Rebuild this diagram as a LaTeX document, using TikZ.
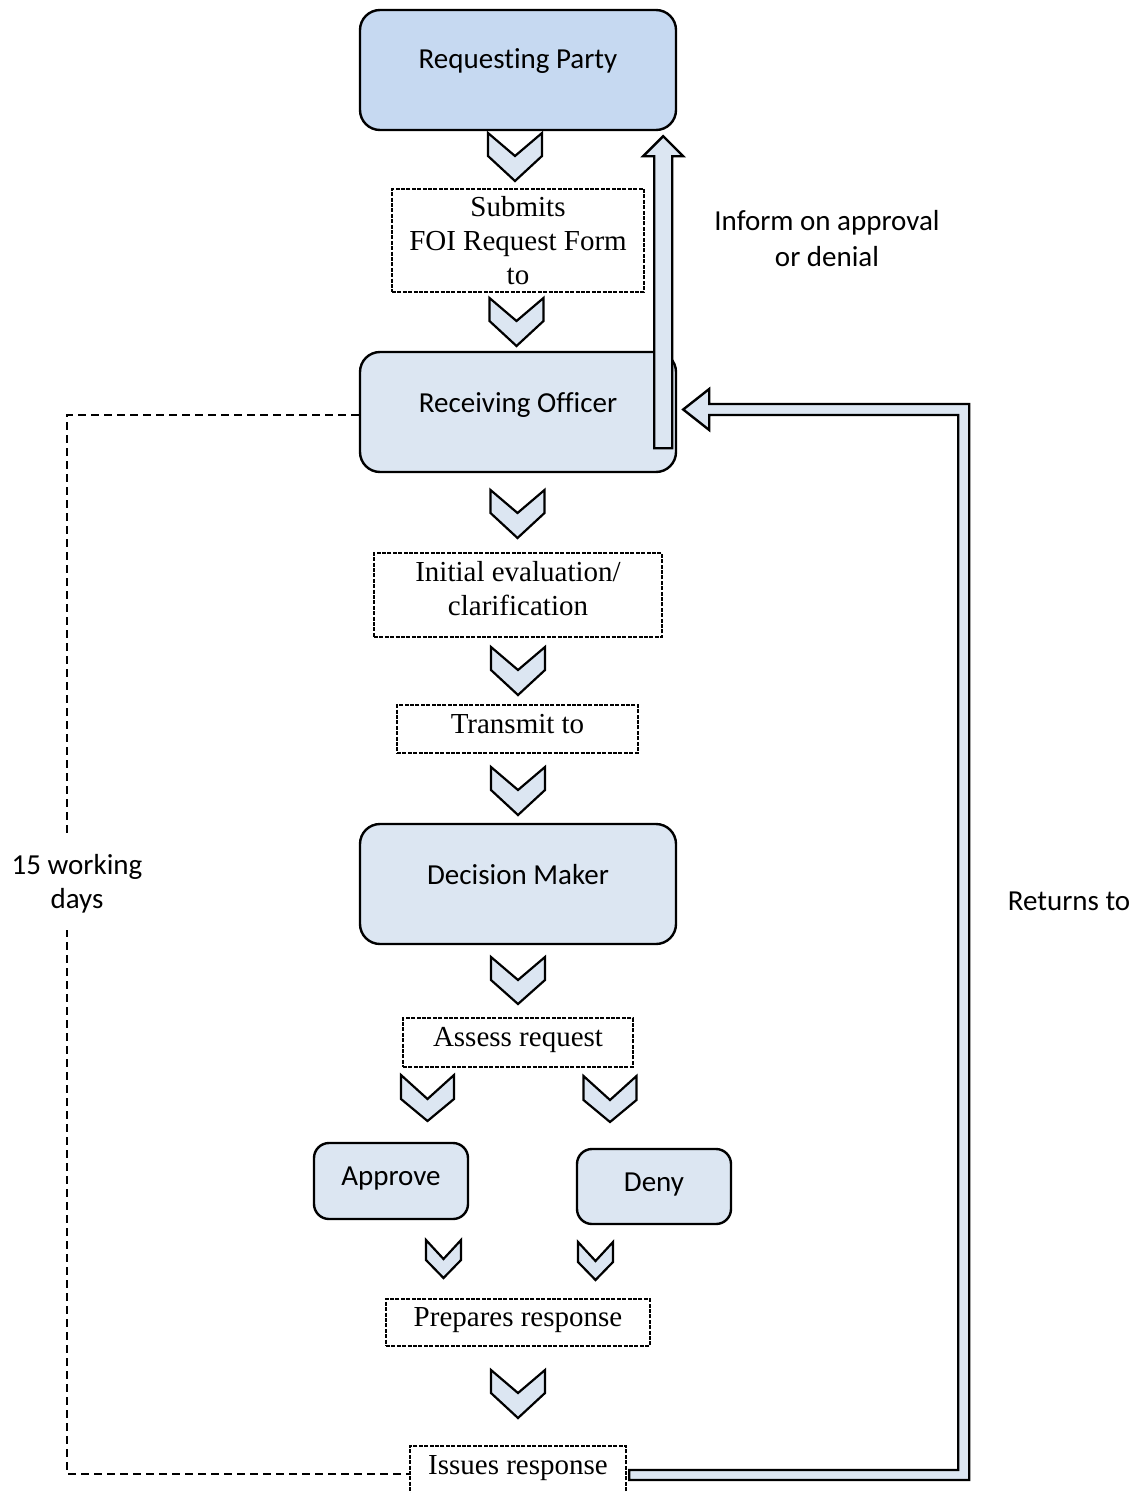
\documentclass[tikz,border=0pt]{standalone}
\usepackage{fontspec}
\setmainfont{Liberation Serif}
\newfontfamily\calibri[Ligatures=NoCommon]{Carlito}
\usetikzlibrary{calc}
\definecolor{darkfill}{HTML}{C6D9F1}
\definecolor{lightfill}{HTML}{DCE6F2}
\begin{document}
\begin{tikzpicture}[x=0.5pt,y=-0.5pt,
  rbox/.style={draw,line width=1.2pt,rounded corners=10pt,fill=lightfill,font=\calibri\fontsize{14.5}{18}\selectfont,minimum width=158pt,minimum height=60pt,inner sep=0pt},
  sbox/.style={rbox,rounded corners=7.5pt,minimum width=77pt},
  dbox/.style={draw,line width=1pt,dash pattern=on 2pt off 0.7pt,fill=white,font=\fontsize{14.5}{17}\selectfont,align=center,inner sep=0pt},
  lbl/.style={font=\calibri\fontsize{14.5}{18}\selectfont,align=center,inner sep=0pt},
  chevst/.style={draw,line width=1.1pt,fill=lightfill,line join=miter},
  barst/.style={draw,line width=1.2pt,fill=lightfill,line join=miter},
  dashline/.style={line width=0.8pt,dash pattern=on 4pt off 2.5pt},
  pics/chev/.style n args={4}{code={\path[chevst,pic actions] (-#1/2,0) -- (0,#2) -- (#1/2,0) -- (#1/2,#3) -- (0,#3+#4) -- (-#1/2,#3) -- cycle;}},
]
\useasboundingbox (0,0) rectangle (1145,1493);
\clip (0,0) rectangle (1145,1493);

% boxes
\node[rbox,fill=darkfill,text height=0pt,text depth=1pt] (rp) at (518,70) {Requesting Party};
\node[dbox,minimum width=126pt,minimum height=51.5pt] (sub) at (518,240.5) {Submits\\FOI Request Form\\to};
\node[rbox,text height=0pt,text depth=0pt] (ro) at (518,412) {Receiving Officer};
\node[dbox,minimum width=144pt,minimum height=42pt] (ini) at (518,595) {Initial evaluation/\\clarification\rule[-6.5pt]{0pt}{6.5pt}};
\node[dbox,minimum width=120.5pt,minimum height=24pt,text height=4pt,text depth=0pt] (tr) at (517.5,729) {Transmit to};
\node[rbox,text height=0pt,text depth=0pt] (dm) at (518,884) {Decision Maker};
\node[dbox,minimum width=115pt,minimum height=24.5pt,text height=3.5pt,text depth=0pt] (as) at (518,1042.5) {Assess request};
\node[sbox,minimum height=38pt,text height=4pt,text depth=0pt] (ap) at (391,1181) {Approve};
\node[sbox,minimum height=37.5pt,text height=4.5pt,text depth=0pt] (dn) at (654,1186.5) {Deny};
\node[dbox,minimum width=132pt,minimum height=23.5pt,text height=3.5pt,text depth=0pt] (pr) at (518,1322.5) {Prepares response};
\node[dbox,minimum width=108pt,minimum height=28pt,text height=0pt,text depth=0pt] (is) at (518,1474) {Issues response};

% labels
\node[lbl] (inf) at (827,239) {Inform on approval\\or denial};
\node[lbl] (ret) at (1069,901) {Returns to};

% dashed time line
\draw[dashline] ($(ro.west)+(0,3)$) -| ([xshift=-171pt]is.west) -- (is.west);
\node[lbl,fill=white,minimum height=46pt,inner xsep=2pt,font=\calibri\fontsize{14.5}{17}\selectfont] (days) at (77,884) {15 working\\days};

% chevrons
\pic[fill=darkfill] at (515,133) {chev={54}{23}{23}{25}};
\pic at (516.5,298) {chev={54}{23}{23}{25}};
\pic at (517.5,490) {chev={54}{23}{23}{25}};
\pic at (518,647) {chev={54}{23}{23}{25}};
\pic at (518,767) {chev={54}{23}{23}{25}};
\pic at (518,957) {chev={54}{23}{23}{24}};
\pic at (427.5,1075) {chev={53}{24}{24}{22}};
\pic at (610,1076) {chev={53}{24}{24}{22}};
\pic at (443.5,1240) {chev={35}{19}{20}{18}};
\pic at (595.5,1242) {chev={35}{19}{20}{18}};
\pic at (518,1370) {chev={54}{23}{23}{25}};

% block arrows
\coordinate (upTip) at ($(rp.south east)+(-14,5)$);
\draw[barst] (upTip) -- ++(20,20) -- ++(-11,0) -- ++(0,292) -- ++(-18,0) -- ++(0,-292) -- ++(-11,0) -- cycle;
\coordinate (retTip) at ($(ro.east)+(6,-2.5)$);
\draw[barst] (retTip) -- ++(26,20.5) -- ++(0,-15) -- ++(249,0) -- ++(0,1055) -- ++(-329,0) -- ++(0,10) -- ++(340,0) -- ++(0,-1076) -- ++(-260,0) -- ++(0,-15) -- cycle;
\end{tikzpicture}
\end{document}
